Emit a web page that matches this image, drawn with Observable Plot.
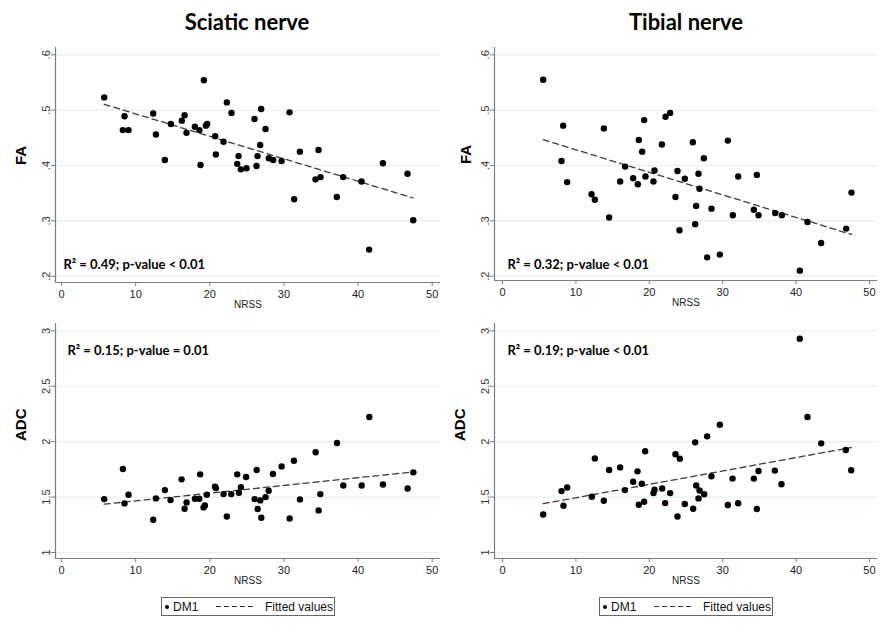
<!DOCTYPE html>
<html><head><meta charset="utf-8">
<script src="https://cdn.jsdelivr.net/npm/d3@7"></script>
<script src="https://cdn.jsdelivr.net/npm/@observablehq/plot@0.6"></script>
<style>
body{margin:0;background:#fff;}
#wrap{position:relative;width:889px;height:633px;background:#fff;overflow:hidden;font-family:"Liberation Sans",Arial,sans-serif;}
.title{position:absolute;top:8px;width:300px;text-align:center;font:bold 22px Lato,sans-serif;color:#000;line-height:27px;}
.panel{position:absolute;}
.legend{position:absolute;top:597px;width:174px;height:19px;border:1px solid #666;box-sizing:border-box;background:#fff;font:12px "Liberation Sans",Arial,sans-serif;color:#111;}
.legend span{position:absolute;}
.ldot{left:2.5px;top:6.5px;width:4.5px;height:4.5px;border-radius:50%;background:#000;}
.lt1{left:11px;top:2px;}
.ldash{left:54px;top:8px;width:40px;height:1.4px;background:repeating-linear-gradient(to right,#333 0 5px,transparent 5px 8px);}
.lt2{left:103px;top:2px;}
</style>
</head><body>
<div id="wrap">
  <div class="title" style="left:97px">Sciatic nerve</div>
  <div class="title" style="left:536px">Tibial nerve</div>
  <div class="legend" style="left:161px"><span class="ldot"></span><span class="lt1">DM1</span><span class="ldash"></span><span class="lt2">Fitted values</span></div>
  <div class="legend" style="left:599px"><span class="ldot"></span><span class="lt1">DM1</span><span class="ldash"></span><span class="lt2">Fitted values</span></div>
</div>
<script>
// ---- data ----
const xTicks = [0, 10, 20, 30, 40, 50];
const faTicks = [0.2, 0.3, 0.4, 0.5, 0.6];
const adcTicks = [1, 1.5, 2, 2.5, 3];

const sciaticFA_NRSS = [5.76,8.5,8.27,9.04,12.37,12.73,13.94,14.75,16.23,16.6,16.86,17.99,18.6,18.75,19.2,19.47,19.65,20.73,20.82,21.85,22.3,22.93,23.7,23.88,24.19,24.96,26.03,26.3,26.44,26.8,26.93,27.52,27.97,28.55,29.68,30.76,31.38,32.15,34.26,34.67,34.94,37.14,37.99,40.47,41.5,43.35,46.67,47.44];
const sciaticFA = [0.523,0.489,0.464,0.464,0.494,0.456,0.410,0.475,0.481,0.491,0.459,0.470,0.464,0.401,0.554,0.472,0.475,0.453,0.420,0.443,0.514,0.495,0.403,0.417,0.393,0.395,0.484,0.399,0.417,0.437,0.502,0.466,0.413,0.410,0.408,0.496,0.339,0.425,0.375,0.428,0.379,0.343,0.379,0.371,0.248,0.404,0.385,0.301];

const sciaticADC_NRSS = [5.76,8.28,8.5,9.04,12.37,12.73,13.95,14.71,16.2,16.6,16.87,18.0,18.58,18.7,19.16,19.34,19.6,20.7,20.83,21.86,22.3,22.9,23.7,23.93,24.2,24.9,26.05,26.32,26.81,26.45,26.95,27.53,27.94,28.52,29.69,30.77,31.35,32.16,34.28,34.68,34.91,37.16,38.01,40.49,41.52,43.36,46.69,47.46];
const sciaticADC = [1.482,1.753,1.443,1.521,1.295,1.488,1.563,1.473,1.660,1.395,1.452,1.485,1.485,1.705,1.407,1.425,1.521,1.593,1.581,1.527,1.325,1.527,1.705,1.539,1.590,1.681,1.482,1.744,1.470,1.392,1.313,1.500,1.557,1.708,1.777,1.307,1.828,1.479,1.904,1.380,1.527,1.988,1.605,1.605,2.223,1.614,1.578,1.723];

const tibialFA_NRSS = [5.54,8.04,8.27,8.81,12.13,12.58,13.81,14.53,16.03,16.71,17.8,18.44,18.57,19.03,19.3,19.48,20.57,20.71,21.71,22.21,22.84,23.57,23.84,24.11,24.84,25.93,26.25,26.38,26.7,26.84,27.43,27.88,28.47,29.61,30.7,31.38,32.11,34.24,34.65,34.88,37.15,38.06,40.51,41.55,43.41,46.82,47.55];
const tibialFA = [0.555,0.408,0.472,0.370,0.348,0.338,0.467,0.306,0.371,0.398,0.377,0.366,0.446,0.425,0.482,0.380,0.371,0.391,0.438,0.488,0.495,0.343,0.390,0.283,0.376,0.442,0.294,0.327,0.385,0.358,0.413,0.234,0.322,0.239,0.445,0.310,0.380,0.320,0.383,0.310,0.314,0.310,0.210,0.298,0.260,0.286,0.351];

const tibialADC_NRSS = [5.54,8.04,8.31,8.81,12.17,12.58,13.8,14.53,16.03,16.67,17.8,18.39,18.57,18.98,19.3,19.44,20.57,20.71,21.75,22.16,22.84,23.57,23.84,24.16,24.84,25.98,26.25,26.39,26.7,26.84,27.88,29.61,27.48,28.47,30.7,31.34,32.11,34.24,34.65,34.88,37.1,38.01,40.5,41.55,43.42,46.77,47.51];
const tibialADC = [1.343,1.554,1.422,1.587,1.503,1.849,1.467,1.744,1.768,1.563,1.639,1.732,1.431,1.620,1.458,1.913,1.536,1.566,1.578,1.446,1.536,1.886,1.325,1.846,1.437,1.395,1.994,1.605,1.488,1.560,2.048,2.153,1.526,1.688,1.429,1.667,1.444,1.667,1.393,1.736,1.739,1.616,2.928,2.222,1.985,1.925,1.742];

const stats = [
  "R² = 0.49; p-value < 0.01",
  "R² = 0.32; p-value < 0.01",
  "R² = 0.15; p-value = 0.01",
  "R² = 0.19; p-value < 0.01"
];

// ---- drawing ----
const faFmt = d => d3.format(".1f")(d).replace(/^0/, "");
const adcFmt = d => d3.format("~g")(d);

function panel(o) {
  const data = o.x.map((v, i) => ({x: v, y: o.y[i]}));
  const svg = Plot.plot({
    width: o.width, height: o.height,
    marginLeft: o.ml, marginRight: o.mr, marginTop: o.mt, marginBottom: o.mb,
    style: {background: "white", fontFamily: "'Liberation Sans', Arial, sans-serif", fontSize: "11px", color: "#222", overflow: "visible"},
    x: {domain: o.xDomain},
    y: {domain: o.yDomain},
    marks: [
      Plot.gridY(o.yTicks, {stroke: "#e6eff1", strokeOpacity: 1, strokeWidth: 1.2}),
      Plot.ruleX([o.xDomain[0]], {stroke: "#7d7d7d", strokeWidth: 1.2}),
      Plot.ruleY([o.yDomain[0]], {stroke: "#7d7d7d", strokeWidth: 1.2}),
      Plot.axisX(xTicks, {tickSize: 4, tickPadding: 4, stroke: "#7d7d7d", fill: "#222", label: null}),
      Plot.axisY(o.yTicks, {tickSize: 4, tickPadding: 2, tickRotate: -90, tickFormat: o.fmt, stroke: "#7d7d7d", fill: "#333", label: null}),
      Plot.linearRegressionY(data, {x: "x", y: "y", ci: 0, stroke: "#3c3c3c", strokeWidth: 1.3, strokeDasharray: "6,4"}),
      Plot.dot(data, {x: "x", y: "y", r: 3.2, fill: "black", stroke: null}),
      Plot.text([o.ylab], {frameAnchor: "left", rotate: -90, dx: o.labDx, fontSize: 15, fontWeight: "bold", fill: "black"}),
      Plot.text(["NRSS"], {frameAnchor: "bottom", dy: 25, fontSize: 10, fill: "#222"}),
      Plot.text([o.stat], {frameAnchor: o.statAnchor, dx: o.sdx, dy: o.sdy, textAnchor: "start", fontFamily: "Lato, sans-serif", fontWeight: "bold", fontSize: 13, fill: "black"})
    ]
  });
  svg.classList.add("panel");
  svg.style.left = o.left + "px";
  svg.style.top = o.top + "px";
  svg.style.position = "absolute";
  document.getElementById("wrap").appendChild(svg);
}

panel({x: sciaticFA_NRSS, y: sciaticFA, yTicks: faTicks, fmt: faFmt, ylab: "FA", stat: stats[0],
  left: 0, top: 40, width: 445, height: 280, ml: 55, mr: 5, mt: 7, mb: 38,
  xDomain: [-0.81, 51.12], yDomain: [0.1886, 0.6132], labDx: -34, statAnchor: "bottom-left", sdx: 8, sdy: -14});
panel({x: tibialFA_NRSS, y: tibialFA, yTicks: faTicks, fmt: faFmt, ylab: "FA", stat: stats[1],
  left: 445, top: 40, width: 444, height: 280, ml: 49, mr: 12, mt: 7, mb: 40,
  xDomain: [-1.09, 51.09], yDomain: [0.1922, 0.6132], labDx: -28, statAnchor: "bottom-left", sdx: 13, sdy: -12});
panel({x: sciaticADC_NRSS, y: sciaticADC, yTicks: adcTicks, fmt: adcFmt, ylab: "ADC", stat: stats[2],
  left: 0, top: 320, width: 445, height: 270, ml: 55, mr: 5, mt: 3, mb: 32,
  xDomain: [-0.81, 51.12], yDomain: [0.946, 3.066], labDx: -34, statAnchor: "top-left", sdx: 12, sdy: 22});
panel({x: tibialADC_NRSS, y: tibialADC, yTicks: adcTicks, fmt: adcFmt, ylab: "ADC", stat: stats[3],
  left: 445, top: 320, width: 444, height: 270, ml: 49, mr: 12, mt: 3, mb: 32,
  xDomain: [-1.09, 51.09], yDomain: [0.946, 3.066], labDx: -34, statAnchor: "top-left", sdx: 13, sdy: 22});
</script>
</body></html>
